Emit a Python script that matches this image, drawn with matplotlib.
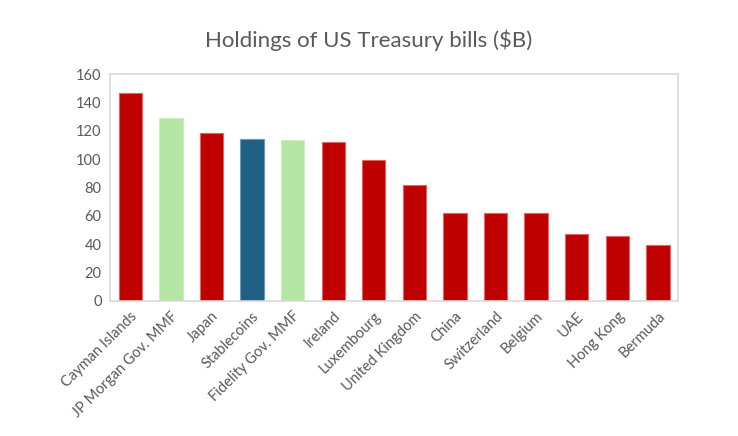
import matplotlib
matplotlib.use('Agg')
from matplotlib import pyplot as plt

# Holdings of US Treasury bills, $B
holders = ['Cayman Islands', 'JP Morgan Gov. MMF', 'Japan', 'Stablecoins', 'Fidelity Gov. MMF',
           'Ireland', 'Luxembourg', 'United Kingdom', 'China', 'Switzerland', 'Belgium',
           'UAE', 'Hong Kong', 'Bermuda']
holdings = [146.4, 128.7, 118.1, 114.1, 113.4, 112.0, 99.3, 81.4, 62.1, 61.7, 61.7, 47.3, 46.1, 39.5]
kind = ['country', 'mmf', 'country', 'stable', 'mmf', 'country', 'country', 'country',
        'country', 'country', 'country', 'country', 'country', 'country']

palette = {'country': '#C00000', 'mmf': '#B4E5A2', 'stable': '#1F6084'}
edges = {'country': '#E06666', 'mmf': '#CDEFC0', 'stable': '#6A9AB5'}

plt.rcParams['font.family'] = ['Lato', 'DejaVu Sans']

fig = plt.figure(figsize=(7.38, 4.36), dpi=100)
ax = fig.add_axes([0.149, 0.310, 0.770, 0.520])

ax.bar(range(len(holders)), holdings, width=0.575,
       color=[palette[k] for k in kind], edgecolor=[edges[k] for k in kind], linewidth=0.8)

ax.set_xlim(-0.5, len(holders) - 0.5)
ax.set_ylim(0, 160)
ax.set_yticks(range(0, 161, 20))
ax.set_xticks(range(len(holders)))
ax.set_xticklabels(holders, rotation=45, ha='right', rotation_mode='anchor')
ax.tick_params(length=0, labelsize=10.5, colors='#595959', pad=6)

for side in ax.spines.values():
    side.set_color('#D9D9D9')
    side.set_linewidth(1.2)

fig.text(0.5, 0.908, 'Holdings of US Treasury bills ($B)', ha='center', va='center',
         fontsize=16, color='#595959')

fig.savefig('out.png', dpi=100)
